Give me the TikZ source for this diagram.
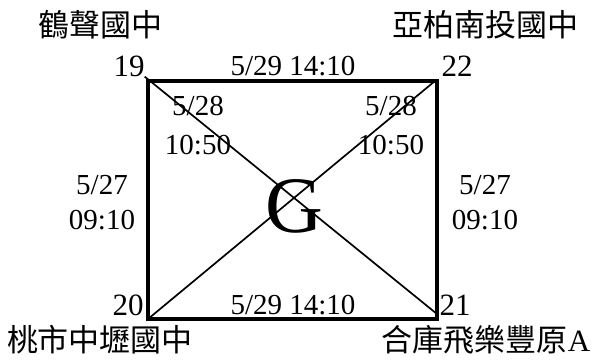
\documentclass[tikz,border=0pt]{standalone}
\usepackage{fontspec}
\setmainfont{Liberation Serif}
\newfontfamily\cjk{Noto Sans CJK TC}
\usetikzlibrary{positioning,calc}

\begin{document}
\begin{tikzpicture}[
    x=1pt,y=-1pt,
    corner/.style={inner sep=0pt,font=\fontsize{31}{31}\selectfont},
    school/.style={inner sep=0pt,font=\cjk\fontsize{31}{31}\selectfont},
    slot/.style={inner sep=0pt,align=center,font=\fontsize{29}{35}\selectfont},
    inslot/.style={slot,font=\fontsize{29}{39}\selectfont},
    box/.style={line width=3.6pt,line cap=rect},
    diag/.style={line width=1.7pt}
]
\useasboundingbox (0,0) rectangle (595,360);

% the four corners of the field
\coordinate (c19) at (148,81);
\coordinate (c22) at (437,81);
\coordinate (c20) at (148,319);
\coordinate (c21) at (437,319);

% team numbers and school names
\node[corner] (n19) at (129,66) {19};
\node[corner] (n22) at (457,66) {22};
\node[corner] (n20) at (128,305) {20};
\node[corner] (n21) at (455,305) {21};
\node[school] (s19) at (100,25) {鶴聲國中};
\node[school] (s22) at (485,25) {亞柏南投國中};
\node[school] (s20) at (100,340) {桃市中壢國中};
\node[school] (s21) at (486,340) {{\cjk 合庫飛樂豐原}{\rmfamily A}};

% group letter
\node[inner sep=0pt,font=\fontsize{80}{80}\selectfont] (grp) at (294,206) {G};

% field and diagonals
\draw[diag] (n19.south east) -- ($(c21)+(0,-5)$);
\draw[diag] (c20) -- ($(c22)+(-2,0)$);
\draw[box] (c19) rectangle (c21);

% match times
\node[slot] (t1922) at (293,66) {5/29 14:10};
\node[slot] (t2021) at (293,305) {5/29 14:10};
\node[slot] (t1920) at (102,203) {5/27\\09:10};
\node[slot] (t2221) at (485,203) {5/27\\09:10};
\node[inslot] (t1921) at (198,126) {5/28\\10:50};
\node[inslot] (t2022) at (391,126) {5/28\\10:50};
\end{tikzpicture}
\end{document}
